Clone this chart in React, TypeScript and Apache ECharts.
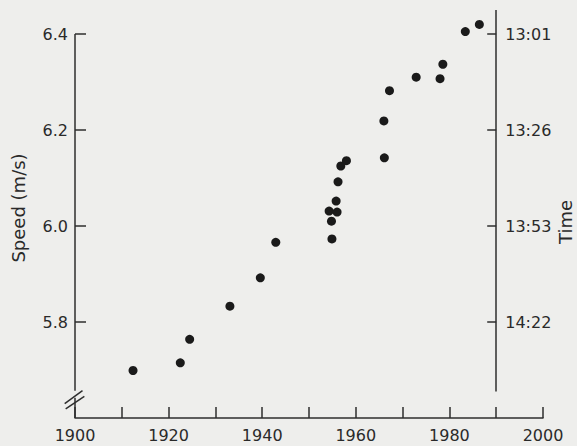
import React, { useEffect, useRef } from "react";
import * as echarts from "echarts";

// Record year and average speed (m/s)
const years = [1912.4, 1922.5, 1924.5, 1933.1, 1939.6, 1942.9, 1954.9, 1954.8, 1954.3, 1956.0, 1955.8, 1956.2, 1956.8, 1958.0, 1966.1, 1966.0, 1967.2, 1972.9, 1978.0, 1978.6, 1983.4, 1986.4];
const speeds = [5.699, 5.715, 5.764, 5.833, 5.892, 5.966, 5.973, 6.010, 6.031, 6.029, 6.052, 6.092, 6.125, 6.136, 6.142, 6.219, 6.282, 6.310, 6.307, 6.337, 6.405, 6.420];

const yearLabels = [1900, 1920, 1940, 1960, 1980, 2000];
const speedTicks = [5.8, 6.0, 6.2, 6.4];
const timeLabels = ["14:22", "13:53", "13:26", "13:01"];

// Axis decorations (axis pieces and break slashes) in data units
const leftAxisUpper = [[1900, 5.657], [1900, 6.4]];
const leftAxisLower = [[1900, 5.6], [1900, 5.642]];
const breakSlashA = [[1897.8, 5.630], [1901.6, 5.657]];
const breakSlashB = [[1898.0, 5.619], [1902.0, 5.645]];
const timeAxisLine = [[1990, 5.655], [1990, 6.45]];

const W = 577;
const H = 446;
const GRID_LEFT = 75;
const GRID_RIGHT = 34;
const FONT = "DejaVu Sans";
const INK = "#2e2e2e";
const TEXT = "#2a2a2a";

export default function App() {
  const ref = useRef<HTMLDivElement>(null);

  useEffect(() => {
    if (!ref.current) return;
    const chart = echarts.init(ref.current, null, { renderer: "svg" });
    const gridWidth = W - GRID_LEFT - GRID_RIGHT;
    const xMin = 1900;
    const xMax = 2000;
    const rightOffset = -gridWidth * (xMax - 1990) / (xMax - xMin);

    const data = years.map((y, i) => [y, speeds[i]]);

    chart.setOption({
      animation: false,
      backgroundColor: "#eeeeec",
      grid: { left: GRID_LEFT, right: GRID_RIGHT, top: 10, bottom: 28, outerBoundsMode: "none", containLabel: false },
      xAxis: {
        type: "value",
        min: xMin,
        max: xMax,
        interval: 10,
        splitLine: { show: false },
        axisLine: { show: true, lineStyle: { color: INK, width: 1.5 } },
        axisTick: { show: true, inside: true, length: 11, lineStyle: { color: INK, width: 1.5 } },
        axisLabel: {
          customValues: yearLabels,
          margin: 9,
          fontFamily: FONT,
          fontSize: 16,
          color: TEXT,
          formatter: (v: number) => String(v),
        },
      },
      yAxis: [
        {
          type: "value",
          min: 5.6,
          max: 6.45,
          position: "left",
          name: "Speed (m/s)",
          nameLocation: "middle",
          nameRotate: 90,
          nameGap: 48,
          nameTextStyle: { fontFamily: FONT, fontSize: 18, color: TEXT, padding: [0, 0, 0, 12] },
          splitLine: { show: false },
          axisLine: { show: false },
          axisTick: { show: true, inside: true, length: 11, customValues: speedTicks, lineStyle: { color: INK, width: 1.5 } },
          axisLabel: {
            customValues: speedTicks,
            margin: 7,
            fontFamily: FONT,
            fontSize: 16,
            color: TEXT,
            formatter: (v: number) => v.toFixed(1),
          },
        },
        {
          type: "value",
          min: 5.6,
          max: 6.45,
          position: "right",
          offset: rightOffset,
          name: "Time",
          nameLocation: "middle",
          nameRotate: 90,
          nameGap: 60,
          nameMoveOverlap: false,
          nameTextStyle: { fontFamily: FONT, fontSize: 18, color: TEXT, padding: [0, 16, 0, 0] },
          splitLine: { show: false },
          axisLine: { show: false },
          axisTick: { show: true, inside: true, length: 9, customValues: speedTicks, lineStyle: { color: INK, width: 1.5 } },
          axisLabel: {
            customValues: speedTicks,
            margin: 9,
            fontFamily: FONT,
            fontSize: 16,
            color: TEXT,
            formatter: (v: number) => {
              const i = speedTicks.findIndex((s) => Math.abs(s - v) < 1e-6);
              return i >= 0 ? timeLabels[i] : "";
            },
          },
        },
      ],
      series: [
        {
          type: "lines",
          coordinateSystem: "cartesian2d",
          xAxisIndex: 0,
          yAxisIndex: 0,
          clip: false,
          silent: true,
          z: 3,
          lineStyle: { color: INK, width: 1.5, opacity: 1, curveness: 0 },
          data: [leftAxisUpper, leftAxisLower, breakSlashA, breakSlashB, timeAxisLine].map((c) => ({ coords: c })),
        },
        {
          type: "scatter",
          xAxisIndex: 0,
          yAxisIndex: 0,
          symbol: "circle",
          symbolSize: 9,
          z: 4,
          itemStyle: { color: "#1a1a1a", opacity: 1 },
          data,
        },
      ],
    });
    return () => chart.dispose();
  }, []);

  return (
    <div
      ref={ref}
      style={{ position: "fixed", left: 0, top: 0, width: W, height: H }}
    />
  );
}
